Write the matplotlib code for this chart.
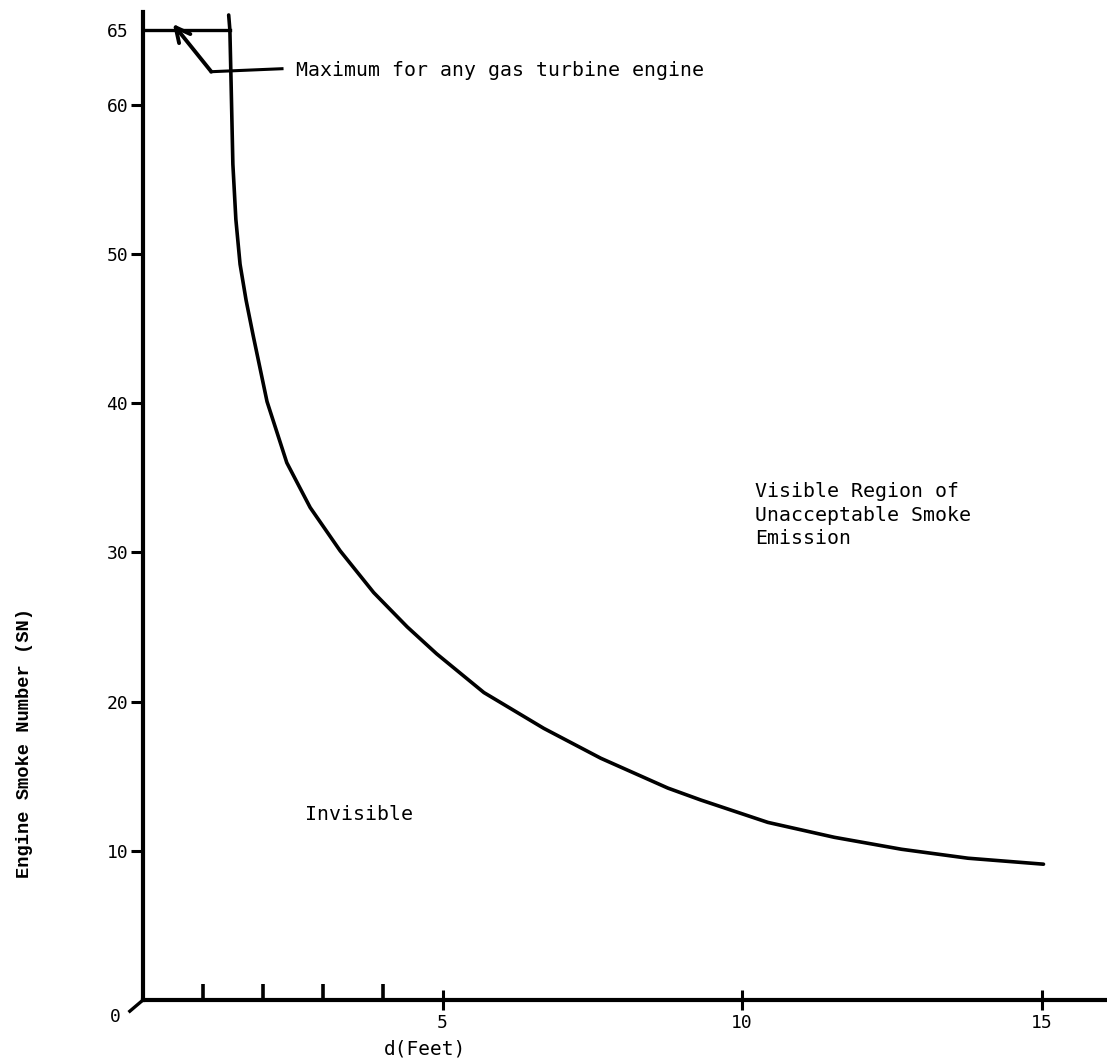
import matplotlib
matplotlib.use("Agg")
import matplotlib.pyplot as plt

plt.rcParams['font.family'] = ['DejaVu Sans Mono']

# boundary curve: distance d (feet) vs engine smoke number
d_feet = [1.43, 1.45, 1.47, 1.50, 1.55, 1.62, 1.72, 1.84, 2.07, 2.40, 2.79, 3.29, 3.85,
          4.41, 4.90, 5.69, 6.69, 7.64, 8.76, 9.31, 10.43, 11.54, 12.66, 13.77, 15.03]
smoke_no = [66.0, 65.0, 61.5, 56.0, 52.3, 49.3, 46.9, 44.5, 40.1, 36.0, 33.0, 30.1, 27.3,
            25.0, 23.2, 20.6, 18.2, 16.2, 14.2, 13.4, 11.9, 10.9, 10.1, 9.5, 9.1]

max_sn = 65
x_major = [5, 10, 15]
x_minor = [1, 2, 3, 4]
y_ticks = [10, 20, 30, 40, 50, 60, 65]

fig = plt.figure(figsize=(11.07, 10.6), dpi=100)
ax = fig.add_axes([143/1107, 60/1060, 964/1107, 988/1060])
ax.set_xlim(0, 16.09)
ax.set_ylim(0, 66.2)

for s in ['top', 'right']:
    ax.spines[s].set_visible(False)
for s in ['left', 'bottom']:
    ax.spines[s].set_linewidth(3)

# curve
ax.plot(d_feet, smoke_no, color='black', lw=2.6, solid_capstyle='round',
        solid_joinstyle='round')

# max line at SN 65
ax.plot([0, d_feet[1]], [max_sn, max_sn], color='black', lw=2.4)

# arrow + leader
ax.annotate('', xy=(0.5, 65.4), xytext=(1.14, 62.2),
            arrowprops=dict(arrowstyle='->', color='black', lw=2.8,
                            mutation_scale=26, shrinkA=0, shrinkB=0))
ax.plot([1.14, 2.32], [62.2, 62.4], color='black', lw=2.2)
ax.text(2.55, 62.3, 'Maximum for any gas turbine engine', fontsize=14.3,
        va='center', ha='left')

ax.text(2.7, 12.4, 'Invisible', fontsize=14.3, va='center', ha='left')
ax.text(10.22, 34.7, 'Visible Region of\nUnacceptable Smoke\nEmission',
        fontsize=14.3, va='top', ha='left', linespacing=1.3)

# ticks
ax.set_xticks(x_major)
ax.set_xticks(x_minor, minor=True)
ax.set_xticklabels([str(v) for v in x_major])
ax.tick_params(axis='x', which='major', direction='inout', length=14, width=2.2,
               pad=3, labelsize=13)
ax.tick_params(axis='x', which='minor', direction='in', length=11.5, width=2.6)

ax.set_yticks(y_ticks)
ax.set_yticklabels([str(v) for v in y_ticks])
ax.tick_params(axis='y', which='major', direction='out', length=8.6, width=2.2,
               pad=2, labelsize=13)
ax.yaxis.get_major_ticks()[-1].tick1line.set_visible(False)

# origin mark and "0"
ax.plot([0, -0.22], [0, -0.75], color='black', lw=2.4, clip_on=False)
ax.text(-0.47, -1.14, '0', fontsize=13, ha='center', va='center')

ax.set_xlabel('d(Feet)', fontsize=14)
ax.xaxis.set_label_coords(0.2925, -0.0395)
ax.set_ylabel('Engine Smoke Number (SN)', fontsize=13.5, fontweight='bold',
              family=['Liberation Mono', 'DejaVu Sans Mono'])
ax.yaxis.set_label_coords(-0.114, 0.26)

fig.savefig('out.png', dpi=100)
